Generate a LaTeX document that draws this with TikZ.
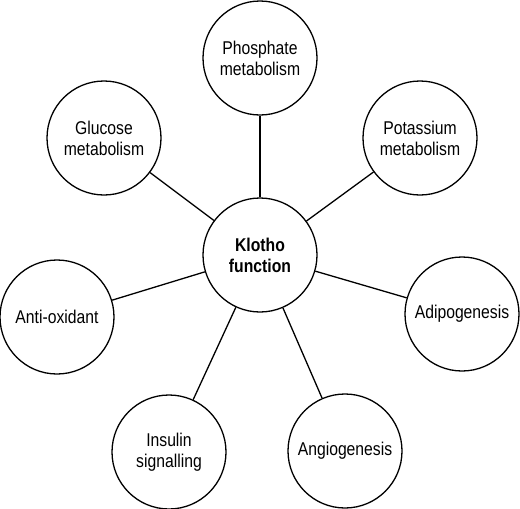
\documentclass[tikz,border=0pt]{standalone}
\usepackage{fontspec}
\setmainfont{Liberation Sans}[FakeStretch=0.85]

\begin{document}
\begin{tikzpicture}[x=1pt,y=-1pt,
    role/.style={circle,draw,line width=1.3pt,minimum size=114pt,inner sep=0pt,
                 align=center,font=\fontsize{18.5}{21}\selectfont},
    hub/.style={role,font=\fontsize{18.5}{21}\selectfont\bfseries},
    spoke/.style={line width=1.3pt}]
         \useasboundingbox (0,0) rectangle (520,509);

         \node[hub]  (klotho)    at (260,255) {Klotho\\function};
         \node[role] (phosphate) at (260,58)  {Phosphate\\metabolism};
         \node[role] (potassium) at (420,138) {Potassium\\metabolism};
         \node[role] (adipo)     at (462,314) {Adipogenesis};
         \node[role] (angio)     at (345,451) {Angiogenesis};
         \node[role] (insulin)   at (169,452) {Insulin\\signalling};
         \node[role] (antiox)    at (57,317)  {Anti-oxidant};
         \node[role] (glucose)   at (104,138) {Glucose\\metabolism};

         \draw[spoke] (klotho) -- (phosphate);
         \draw[spoke] (klotho) -- (potassium);
         \draw[spoke] (klotho) -- (adipo);
         \draw[spoke] (klotho) -- (angio);
         \draw[spoke] (klotho) -- (insulin);
         \draw[spoke] (klotho) -- (antiox);
         \draw[spoke] (klotho) -- (glucose);
\end{tikzpicture}
\end{document}
